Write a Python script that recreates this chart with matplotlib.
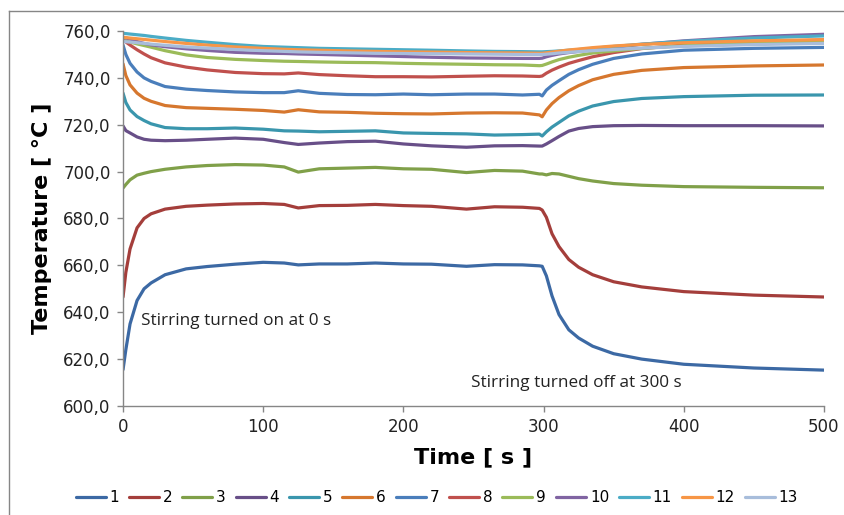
import matplotlib
matplotlib.use("Agg")
import matplotlib.pyplot as plt
from matplotlib.ticker import FuncFormatter
from matplotlib.lines import Line2D

# ------------------------------------------------------
# data (time in s, temperature in degC)
# ------------------------------------------------------
time_s = [0, 2, 5, 10, 15, 20, 30, 45, 60, 80, 100, 115, 125, 140, 160, 180,
          200, 220, 245, 265, 285, 297, 299, 302, 306, 311, 318, 325, 335, 350,
          370, 400, 450, 500]

t1 = [615.5, 624, 635, 645, 650, 652.5, 656, 658.5, 659.5, 660.5, 661.3, 661, 660.2,
      660.6, 660.6, 661, 660.6, 660.5, 659.6, 660.3, 660.2, 659.8, 659.6, 655.5, 647,
      639, 632.5, 629, 625.5, 622.3, 620, 617.8, 616.2, 615.3]
t2 = [646.5, 657, 667, 676, 680, 682, 684, 685.2, 685.7, 686.2, 686.4, 686, 684.5,
      685.5, 685.6, 686, 685.5, 685.2, 684, 685, 684.8, 684.3, 683.6, 680.5, 673.5,
      668, 662.5, 659.2, 656, 653, 650.8, 648.8, 647.3, 646.5]
t3 = [693, 694.5, 696.5, 698.5, 699.3, 700, 701, 702, 702.6, 703, 702.8, 702, 699.8,
      701.2, 701.5, 701.8, 701.2, 701, 699.6, 700.5, 700.2, 699, 699, 698.6, 699.2,
      699, 698, 697, 696, 694.9, 694.2, 693.6, 693.3, 693.1]
t4 = [719.5, 717.5, 716.5, 714.8, 713.8, 713.4, 713.2, 713.4, 713.8, 714.3, 713.8,
      712.4, 711.6, 712.2, 712.8, 713, 711.8, 711, 710.4, 711, 711.1, 710.9, 710.9,
      711.8, 713.2, 715, 717.3, 718.4, 719.2, 719.6, 719.7, 719.6, 719.6, 719.5]
t5 = [733.5, 729.5, 726.3, 723.5, 721.8, 720.4, 718.8, 718.3, 718.3, 718.6, 718.1,
      717.4, 717.3, 717, 717.2, 717.4, 716.5, 716.3, 716.1, 715.6, 715.8, 716, 715.2,
      717, 719, 721, 723.8, 725.8, 728, 729.9, 731.2, 732, 732.6, 732.7]
t6 = [746, 741, 737, 733.5, 731.3, 730, 728.2, 727.3, 727, 726.6, 726.1, 725.4, 726.4,
      725.5, 725.3, 724.9, 724.7, 724.6, 725, 725.1, 725, 724.2, 723.4, 726.3, 729,
      731.6, 734.5, 736.7, 739.2, 741.5, 743.2, 744.4, 745.1, 745.5]
t7 = [754, 750, 746.2, 742.5, 740, 738.5, 736.3, 735.2, 734.6, 734, 733.7, 733.7,
      734.5, 733.4, 732.9, 732.8, 733.1, 732.8, 733.1, 733.1, 732.7, 733, 732.3, 734.8,
      736.8, 738.8, 741.5, 743.5, 745.8, 748.3, 750.2, 751.8, 752.6, 753]
t8 = [756.2, 755.3, 754, 752, 750.2, 748.6, 746.4, 744.6, 743.4, 742.3, 741.8, 741.7,
      742.1, 741.4, 740.9, 740.5, 740.5, 740.4, 740.7, 740.9, 740.8, 740.6, 740.8, 742,
      743.3, 744.6, 746.2, 747.4, 749, 750.8, 752.5, 754, 755.4, 756.2]
t9 = [756, 755.7, 755.3, 754.5, 753.8, 753.1, 751.6, 749.8, 748.7, 747.9, 747.4, 747.1,
      747, 746.8, 746.6, 746.5, 746.2, 746, 745.8, 745.6, 745.5, 745.2, 745.3, 745.9,
      746.8, 747.8, 748.8, 749.6, 750.6, 751.5, 752.6, 753.7, 754.8, 755.4]
t10 = [757.2, 757, 756.6, 755.5, 754.7, 754.1, 753.3, 752.4, 751.7, 750.9, 750.5,
       750.4, 750.2, 750, 749.7, 749.4, 749.1, 748.8, 748.5, 748.4, 748.3, 748.3, 748.4,
       749, 749.6, 750.2, 750.8, 751.3, 752, 753, 754.3, 755.8, 757.6, 758.6]
t11 = [759, 758.9, 758.7, 758.4, 758.1, 757.7, 757, 756, 755.2, 754.2, 753.4, 753.1,
       752.9, 752.6, 752.4, 752.2, 752, 751.8, 751.5, 751.3, 751.2, 751.1, 751.1, 751.2,
       751.3, 751.5, 751.8, 752.1, 752.6, 753.4, 754.4, 755.6, 757, 757.9]
t12 = [757.3, 757.2, 757, 756.7, 756.4, 756.1, 755.5, 754.7, 754, 753.2, 752.6, 752.2,
       752, 751.8, 751.5, 751.3, 751.1, 751, 750.8, 750.7, 750.6, 750.5, 750.5, 750.7,
       751, 751.4, 751.9, 752.3, 752.9, 753.6, 754.3, 755, 755.8, 756.3]
t13 = [755.5, 755.4, 755.3, 755, 754.7, 754.4, 753.9, 753.2, 752.7, 752.1, 751.6,
       751.3, 751.1, 750.9, 750.7, 750.5, 750.4, 750.3, 750.2, 750.1, 750, 750, 750,
       750.1, 750.3, 750.6, 750.9, 751.2, 751.6, 752.1, 752.7, 753.4, 754.2, 754.7]

series = [t1, t2, t3, t4, t5, t6, t7, t8, t9, t10, t11, t12, t13]
labels = [str(i) for i in range(1, 14)]
colors = ["#3C69A4", "#A43E3B", "#80A049", "#684F88", "#3A96AD", "#D6772E",
          "#4A7EBB", "#C0504D", "#9BBB59", "#8064A2", "#4BACC6", "#F79646",
          "#A8BDDB"]

# ------------------------------------------------------
# figure
# ------------------------------------------------------
fig = plt.figure(figsize=(8.45, 5.15), dpi=100)
ax = fig.add_axes([0.1456, 0.2117, 0.8295, 0.7281])

for vals, lab, col in zip(series, labels, colors):
    ax.plot(time_s, vals, color=col, lw=2.3, label=lab, solid_capstyle="round")

ax.set_xlim(0, 500)
ax.set_ylim(600, 760)
ax.set_xticks(range(0, 501, 100))
ax.set_yticks(range(600, 761, 20))
ax.yaxis.set_major_formatter(FuncFormatter(lambda v, p: f"{v:.1f}".replace(".", ",")))

grey = "#868686"
for side in ["top", "right"]:
    ax.spines[side].set_visible(False)
for side in ["left", "bottom"]:
    ax.spines[side].set_color(grey)
    ax.spines[side].set_linewidth(1.0)
ax.tick_params(direction="out", length=4, width=1, color=grey,
               labelsize=12, labelcolor="#222222", pad=5)

ax.set_xlabel("Time [ s ]", fontsize=16, fontweight="bold", labelpad=8)
ax.set_ylabel("Temperature [ °C ]", fontsize=16, fontweight="bold", labelpad=8)

ax.text(13, 636.3, "Stirring turned on at 0 s", fontsize=12.3, family="Open Sans",
        color="#222222", va="center")
ax.text(248, 609.6, "Stirring turned off at 300 s", fontsize=12.3, family="Open Sans",
        color="#222222", va="center")

leg = fig.legend(loc="center", bbox_to_anchor=(0.517, 0.034), ncol=13, frameon=False,
                 fontsize=11, handlelength=1.96, handletextpad=0.26, columnspacing=0.64)

# outer chart border (top and left visible)
fig.add_artist(Line2D([9 / 845, 1.0], [1 - 11 / 515] * 2, transform=fig.transFigure,
                      color=grey, lw=1))
fig.add_artist(Line2D([9 / 845] * 2, [0.0, 1 - 11 / 515], transform=fig.transFigure,
                      color=grey, lw=1))

fig.savefig("out.png", dpi=100)
